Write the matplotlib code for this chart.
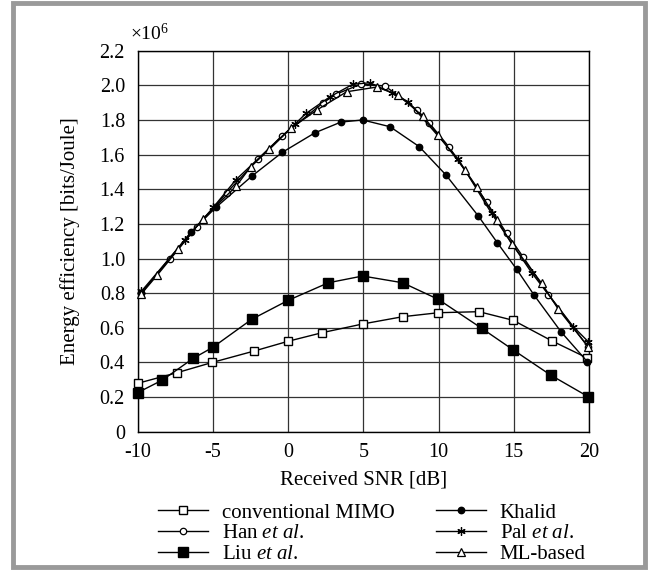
import matplotlib
matplotlib.use("Agg")
import matplotlib.pyplot as plt
from matplotlib.patches import Rectangle

plt.rcParams['font.family'] = ['Liberation Serif', 'DejaVu Serif']
plt.rcParams['mathtext.fontset'] = 'custom'
plt.rcParams['mathtext.rm'] = 'Liberation Serif'
plt.rcParams['mathtext.it'] = 'Liberation Serif:italic'
plt.rcParams['axes.unicode_minus'] = False

# data (y in units of 1e6 bits/Joule)
conv_x = [-10, -7.36, -5.03, -2.24, 0, 2.28, 4.96, 7.62, 9.99, 12.69, 14.97, 17.52, 19.85]
conv_y = [0.279, 0.341, 0.40, 0.466, 0.522, 0.572, 0.622, 0.664, 0.687, 0.693, 0.643, 0.525, 0.427]

han_x = [-9.75, -7.84, -6.07, -4.07, -1.97, -0.42, 2.35, 3.17, 4.85, 6.45, 8.59, 9.37, 10.72,
         13.2, 14.53, 15.64, 17.29, 19.95]
han_y = [0.80, 1.00, 1.18, 1.38, 1.575, 1.707, 1.90, 1.948, 2.007, 1.996, 1.857, 1.784, 1.642,
         1.324, 1.145, 1.007, 0.792, 0.488]

liu_x = [-10, -8.35, -6.29, -5.0, -2.41, 0.0, 2.68, 4.96, 7.62, 9.99, 12.87, 14.97, 17.45, 19.95]
liu_y = [0.225, 0.298, 0.424, 0.487, 0.649, 0.758, 0.860, 0.899, 0.860, 0.764, 0.597, 0.472, 0.327, 0.202]

khalid_x = [-9.75, -6.47, -4.78, -2.37, -0.38, 1.79, 3.52, 4.96, 6.78, 8.72, 10.5, 12.65, 13.91,
            15.2, 16.35, 18.14, 19.89]
khalid_y = [0.80, 1.151, 1.296, 1.478, 1.613, 1.726, 1.788, 1.80, 1.761, 1.646, 1.482, 1.245, 1.091,
            0.937, 0.789, 0.577, 0.404]

pal_x = [-9.75, -6.84, -4.96, -3.46, 0.47, 1.2, 2.79, 4.3, 5.45, 6.89, 8.0, 11.32, 13.53,
         16.19, 18.96, 19.95]
pal_y = [0.81, 1.107, 1.296, 1.455, 1.777, 1.838, 1.934, 2.006, 2.015, 1.957, 1.905, 1.573, 1.26,
         0.918, 0.606, 0.52]

ml_x = [-9.75, -8.68, -7.29, -5.67, -3.45, -2.48, -1.24, 0.2, 1.91, 3.9, 5.9, 7.33, 8.95, 9.99,
        11.76, 12.54, 13.91, 14.86, 16.86, 17.96, 19.95]
ml_y = [0.795, 0.905, 1.053, 1.228, 1.417, 1.53, 1.63, 1.752, 1.857, 1.963, 1.99, 1.944, 1.823, 1.713,
        1.511, 1.413, 1.22, 1.085, 0.857, 0.707, 0.49]

x_ticks = [-10, -5, 0, 5, 10, 15, 20]
y_ticks = [0, 0.2, 0.4, 0.6, 0.8, 1.0, 1.2, 1.4, 1.6, 1.8, 2.0, 2.2]
y_ticklabels = ['0', '0.2', '0.4', '0.6', '0.8', '1.0', '1.2', '1.4', '1.6', '1.8', '2.0', '2.2']

fig = plt.figure(figsize=(6.53, 5.78), dpi=100)
ax = fig.add_axes([137.5 / 653, 1 - 431.7 / 578, (589 - 137.5) / 653, (431.7 - 50.7) / 578])

lw = 1.0
ax.plot(conv_x, conv_y, color='black', lw=lw, marker='s', ms=6.3, mfc='white', mec='black', mew=1.0,
        clip_on=False, zorder=3, label='conventional MIMO')
ax.plot(han_x, han_y, color='black', lw=lw, marker='o', ms=4.6, mfc='white', mec='black', mew=0.9,
        clip_on=False, zorder=3, label=r'Han $\mathit{et\ al.}$')
ax.plot(liu_x, liu_y, color='black', lw=lw, marker='s', ms=6.5, mfc='black', mec='black',
        clip_on=False, zorder=3, label=r'Liu $\mathit{et\ al.}$')
ax.plot(khalid_x, khalid_y, color='black', lw=lw, marker='o', ms=4.6, mfc='black', mec='black',
        clip_on=False, zorder=3, label='Khalid')
ax.plot(pal_x, pal_y, color='black', lw=lw, marker=(6, 2, 0), ms=6, mec='black', mew=0.9,
        clip_on=False, zorder=3, label=r'Pal $\mathit{et\ al.}$')
ax.plot(ml_x, ml_y, color='black', lw=lw, marker='^', ms=5.5, mfc='white', mec='black', mew=0.9,
        clip_on=False, zorder=3, label='ML-based')

ax.set_xlim(-10, 20)
ax.set_ylim(0, 2.2)
ax.set_xticks(x_ticks)
ax.set_xticklabels([str(t) for t in x_ticks])
ax.set_yticks(y_ticks)
ax.set_yticklabels(y_ticklabels)
ax.tick_params(length=0, labelsize=14.5)
ax.tick_params(axis='x', pad=8)
ax.tick_params(axis='y', pad=9)
ax.grid(True, color='#333333', lw=0.9)
ax.set_axisbelow(True)
for s in ax.spines.values():
    s.set_linewidth(1.0)
    s.set_color('black')

ax.set_xlabel('Received SNR [dB]', fontsize=15, labelpad=6)
ax.set_ylabel('Energy efficiency [bits/Joule]', fontsize=15, labelpad=14)
ax.text(-10.5, 2.24, r'$\times10^6$', fontsize=14, ha='left', va='bottom', transform=ax.transData)

fig.legend(loc='upper left', bbox_to_anchor=(158 / 653, 1 - 503 / 578), ncol=2, frameon=False,
           fontsize=15, handlelength=2.4, handletextpad=0.65, columnspacing=2.0, labelspacing=0.05,
           borderpad=0, borderaxespad=0)

# grey frame around the figure
fig.patches.append(Rectangle((13 / 653, 1 - 567 / 578), (644.5 - 13) / 653, (567 - 2.5) / 578,
                             transform=fig.transFigure, fill=False, ec='#9a9a9a', lw=3.5))

fig.savefig('out.png', dpi=100)
